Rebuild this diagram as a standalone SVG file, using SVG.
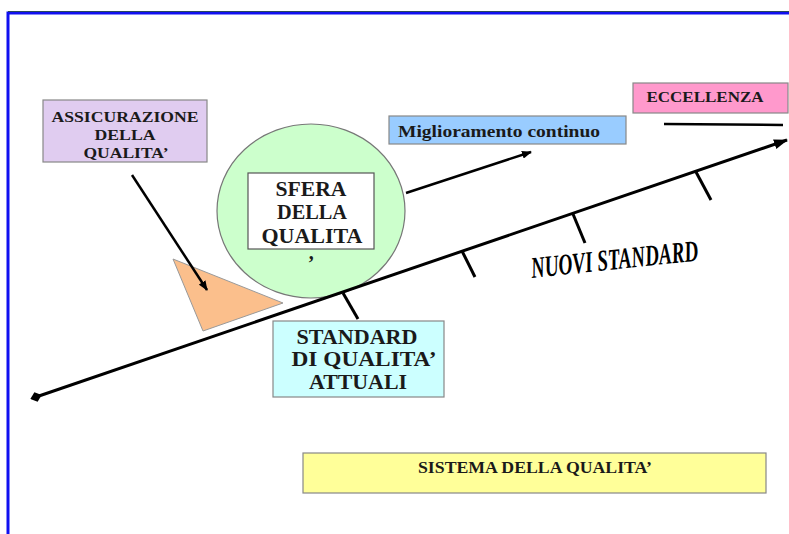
<svg xmlns="http://www.w3.org/2000/svg" width="789" height="534" viewBox="0 0 789 534">
<defs>
<marker id="arr" markerWidth="10" markerHeight="8" refX="9" refY="4" orient="auto" markerUnits="userSpaceOnUse" viewBox="0 0 10 8">
<path d="M0,0 L10,4 L0,8 Z" fill="#000"/>
</marker>
<marker id="arrBig" markerWidth="14" markerHeight="10" refX="13" refY="5" orient="auto" markerUnits="userSpaceOnUse" viewBox="0 0 14 10">
<path d="M0,0 L14,5 L0,10 Z" fill="#000"/>
</marker>
<marker id="dia" markerWidth="12" markerHeight="12" refX="6" refY="6" orient="auto" markerUnits="userSpaceOnUse" viewBox="0 0 12 12">
<path d="M0,6 L6,1 L12,6 L6,11 Z" fill="#000"/>
</marker>
<style>
.t{font-family:"Liberation Serif","Times New Roman",serif;font-weight:bold;fill:#1a1a1a;text-anchor:middle}
.box{stroke:#888;stroke-width:1.2}
.ln{stroke:#000;stroke-width:3;fill:none}
.nv{text-anchor:start;font-style:italic;fill:#000}
</style>
</defs>
<rect x="0" y="0" width="789" height="534" fill="#fff"/>
<rect x="8" y="13" width="800" height="540" fill="none" stroke="#1010f0" stroke-width="3"/>
<line x1="8" y1="11.5" x2="789" y2="11.5" stroke="#2a4a5a" stroke-width="1"/>

<g id="assicurazione">
<rect class="box" x="43" y="100" width="164" height="62" fill="#e0ccf0"/>
<text class="t" x="125" y="122" font-size="14" textLength="147" lengthAdjust="spacingAndGlyphs">ASSICURAZIONE</text>
<text class="t" x="125" y="140" font-size="14" textLength="61" lengthAdjust="spacingAndGlyphs">DELLA</text>
<text class="t" x="126" y="158" font-size="14" textLength="85" lengthAdjust="spacingAndGlyphs">QUALITA’</text>
</g>

<g id="triangolo">
<polygon points="173,259 283,303 203,331" fill="#fbbf8c" stroke="#999" stroke-width="1"/>
</g>

<g id="sfera">
<ellipse cx="311" cy="211" rx="94" ry="87" fill="#ccffcc" stroke="#777" stroke-width="1.2"/>
<rect x="248" y="173" width="126" height="76" fill="#fff" stroke="#555" stroke-width="1.2"/>
<text class="t" x="311" y="196" font-size="20" textLength="71" lengthAdjust="spacingAndGlyphs">SFERA</text>
<text class="t" x="312" y="219" font-size="20" textLength="70" lengthAdjust="spacingAndGlyphs">DELLA</text>
<text class="t" x="312" y="243" font-size="20" textLength="101" lengthAdjust="spacingAndGlyphs">QUALITA</text>
<text class="t" x="311" y="270" font-size="20">’</text>
</g>

<g id="miglioramento">
<rect class="box" x="389" y="116" width="237" height="28" fill="#99ccff"/>
<text class="t" x="499" y="137" font-size="17" textLength="202" lengthAdjust="spacingAndGlyphs">Miglioramento continuo</text>
</g>

<g id="eccellenza">
<rect class="box" x="633" y="83" width="155" height="30" fill="#ff99cc"/>
<text class="t" x="705" y="102" font-size="15" textLength="117" lengthAdjust="spacingAndGlyphs">ECCELLENZA</text>
</g>

<g id="standard">
<rect class="box" x="273" y="321" width="171" height="76" fill="#ccffff"/>
<text class="t" x="357" y="344" font-size="20" textLength="121" lengthAdjust="spacingAndGlyphs">STANDARD</text>
<text class="t" x="364" y="366" font-size="20" textLength="145" lengthAdjust="spacingAndGlyphs">DI QUALITA’</text>
<text class="t" x="358" y="389" font-size="20" textLength="98" lengthAdjust="spacingAndGlyphs">ATTUALI</text>
</g>

<g id="nuovi">
<text class="t nv" x="0" y="0" font-size="30" textLength="168" lengthAdjust="spacingAndGlyphs" transform="translate(532,278) rotate(-6)">NUOVI STANDARD</text>
</g>

<g id="sistema">
<rect class="box" x="303" y="453" width="463" height="40" fill="#ffff99"/>
<text class="t" x="535" y="473" font-size="16" textLength="234" lengthAdjust="spacingAndGlyphs">SISTEMA DELLA QUALITA’</text>
</g>

<g id="connectors">
<line class="ln" x1="36" y1="397" x2="787" y2="140" marker-start="url(#dia)" marker-end="url(#arrBig)"/>
<line class="ln" x1="343" y1="293" x2="358" y2="319"/>
<line class="ln" x1="462" y1="251" x2="475" y2="277"/>
<line class="ln" x1="573" y1="214" x2="585" y2="243"/>
<line class="ln" x1="696" y1="172" x2="711" y2="200"/>
<line x1="664" y1="124" x2="783" y2="125" stroke="#000" stroke-width="2.5"/>
<line x1="406" y1="193" x2="531" y2="152" stroke="#000" stroke-width="2.5" marker-end="url(#arr)"/>
<line x1="132" y1="175" x2="207" y2="290" stroke="#000" stroke-width="2.5" marker-end="url(#arr)"/>
</g>
</svg>
